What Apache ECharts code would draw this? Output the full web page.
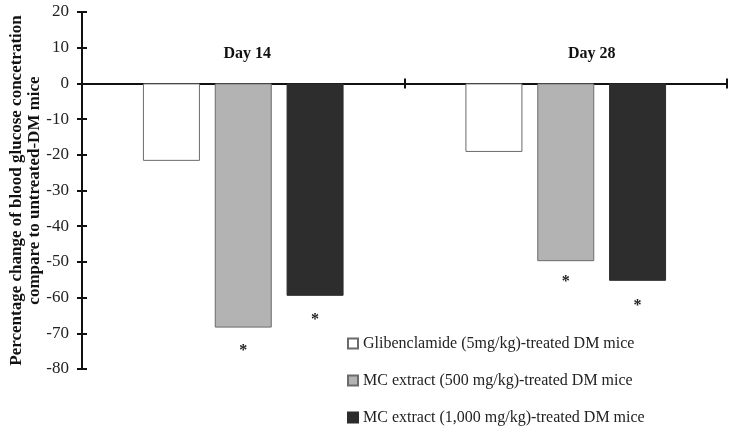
<!DOCTYPE html>
<html>
<head>
<meta charset="utf-8">
<script src="https://cdn.jsdelivr.net/npm/echarts@6/dist/echarts.min.js"></script>
<style>html,body{margin:0;padding:0;background:#fff;}#c{width:733px;height:428px;}</style>
</head>
<body>
<div id="c"></div>
<script>
const categories = ['Day 14', 'Day 28'];
const seriesNames = [
  'Glibenclamide (5mg/kg)-treated DM mice',
  'MC extract (500 mg/kg)-treated DM mice',
  'MC extract (1,000 mg/kg)-treated DM mice'
];
const glib = [-21.7, -19.2];
const mc500 = [-68.4, -49.8];
const mc1000 = [-59.5, -55.3];
const sigGlib = [false, false];
const sig500 = [true, true];
const sig1000 = [true, true];
const yMin = -80, yMax = 20, yStep = 10;
const yAxisTitle = 'Percentage change of blood glucose concetration\ncompare to untreated-DM mice';

const serif = 'Liberation Serif, Times New Roman, serif';
const fills = ['#ffffff', '#b3b3b3', '#2d2d2d'];
const borders = ['#6b6b6b', '#6b6b6b', '#2d2d2d'];

function mk(i, vals, sig, dist) {
  return {
    name: seriesNames[i],
    type: 'bar',
    xAxisIndex: 0, yAxisIndex: 0,
    barWidth: 57,
    barGap: '26%',
    itemStyle: { color: fills[i], borderColor: borders[i], borderWidth: 1 },
    data: vals.map((v, k) => ({
      value: v,
      label: {
        show: sig[k], position: 'bottom', distance: dist[k], formatter: '*',
        fontFamily: serif, fontSize: 16, color: '#222', fontWeight: 'bold'
      }
    }))
  };
}

const chart = echarts.init(document.getElementById('c'));
chart.setOption({
  animation: false,
  backgroundColor: '#fff',
  grid: { left: 82, right: 6, top: 12, bottom: 59, containLabel: false, outerBoundsMode: 'none' },
  xAxis: [{
    type: 'category', data: categories,
    axisLine: { onZero: true, lineStyle: { color: '#111', width: 2 } },
    axisTick: { show: true, length: 5, lineStyle: { color: '#111', width: 2 } },
    axisLabel: { show: false },
    splitLine: { show: false }
  }, {
    type: 'category', data: categories, position: 'bottom',
    axisLine: { show: false, onZero: true },
    axisTick: { show: true, inside: true, length: 5, lineStyle: { color: '#111', width: 2 } },
    axisLabel: { show: false }, splitLine: { show: false }
  }, {
    type: 'category', data: categories, position: 'top',
    axisLine: { show: false, onZero: false },
    axisTick: { show: false },
    axisLabel: {
      inside: true, margin: 34,
      formatter: (v, i) => '{' + (i === 0 ? 'a' : 'b') + '|' + v + '}',
      rich: {
        a: { fontFamily: serif, fontSize: 16, fontWeight: 'bold', color: '#111', padding: [0, 0, 0, 8] },
        b: { fontFamily: serif, fontSize: 16, fontWeight: 'bold', color: '#111', padding: [0, 0, 0, 52] }
      }
    },
    splitLine: { show: false }
  }],
  yAxis: [{
    type: 'value', min: yMin, max: yMax, interval: yStep,
    axisLine: { show: true, lineStyle: { color: '#111', width: 2 } },
    axisTick: { show: true, length: 5, lineStyle: { color: '#111', width: 2 } },
    axisLabel: { margin: 13, fontFamily: serif, fontSize: 17, color: '#222' },
    splitLine: { show: false },
    name: yAxisTitle, nameLocation: 'middle', nameGap: 38, nameRotate: 90, nameMoveOverlap: false,
    nameTextStyle: { fontFamily: serif, fontSize: 17, fontWeight: 'bold', color: '#111', lineHeight: 18 }
  }, {
    type: 'value', min: yMin, max: yMax, interval: yStep, position: 'left',
    axisLine: { show: false },
    axisTick: { show: true, inside: true, length: 5, lineStyle: { color: '#111', width: 2 } },
    axisLabel: { show: false }, splitLine: { show: false }
  }],
  legend: {
    orient: 'vertical', left: 347, top: 335, padding: 0,
    itemWidth: 10, itemHeight: 10, itemGap: 20, icon: 'rect',
    textStyle: { fontFamily: serif, fontSize: 16, lineHeight: 17, color: '#222' },
    data: seriesNames
  },
  series: [
    mk(0, glib, sigGlib, [15, 15]),
    mk(1, mc500, sig500, [15, 13]),
    mk(2, mc1000, sig1000, [16, 17])
  ]
});
</script>
</body>
</html>
